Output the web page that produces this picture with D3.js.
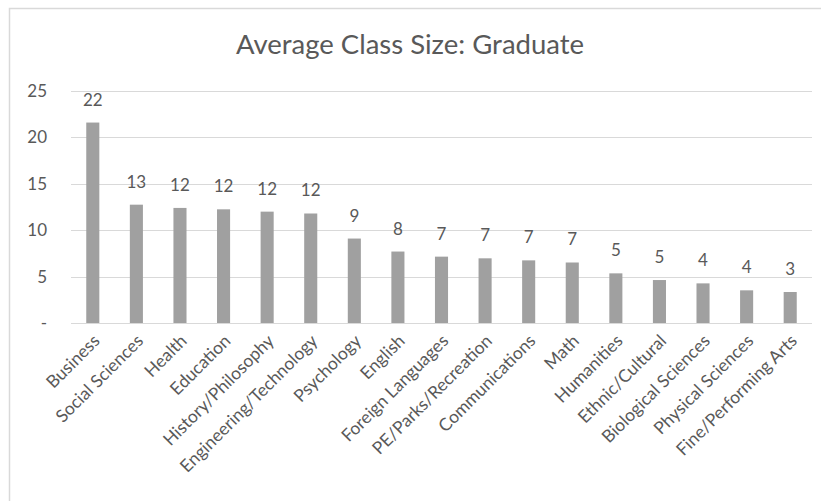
<!DOCTYPE html>
<html>
<head>
<meta charset="utf-8">
<script src="https://cdn.jsdelivr.net/npm/d3@7"></script>
<style>
  body { margin: 0; background: #fff; }
  text { font-family: Lato, "Open Sans", sans-serif; fill: #595959; }
</style>
</head>
<body>
<div id="chart"></div>
<script>
// chart data
var categories = ["Business", "Social Sciences", "Health", "Education", "History/Philosophy",
  "Engineering/Technology", "Psychology", "English", "Foreign Languages", "PE/Parks/Recreation",
  "Communications", "Math", "Humanities", "Ethnic/Cultural", "Biological Sciences",
  "Physical Sciences", "Fine/Performing Arts"];
var values = [21.6, 12.75, 12.4, 12.25, 12.0, 11.8, 9.1, 7.7, 7.15, 6.97, 6.75, 6.52, 5.35, 4.63, 4.27, 3.52, 3.34];
var yTicks = [0, 5, 10, 15, 20, 25];
var title = "Average Class Size: Graduate";

var svgWidth = 821, svgHeight = 501;
var margin = { top: 91, right: 9, bottom: 178, left: 71 };
var width = svgWidth - margin.left - margin.right;
var height = 323 - margin.top;

var svg = d3.select("#chart").append("svg")
  .attr("width", svgWidth)
  .attr("height", svgHeight);

// chart frame (left and top edges visible)
svg.append("path")
  .attr("d", "M9.5,501 L9.5,8.5 L821,8.5")
  .attr("fill", "none")
  .attr("stroke", "#d9d9d9")
  .attr("stroke-width", 1.5);

svg.append("text")
  .attr("x", 410)
  .attr("y", 54)
  .attr("text-anchor", "middle")
  .attr("font-size", "27.5px")
  .text(title);

var chartGroup = svg.append("g")
  .attr("transform", `translate(${margin.left}, ${margin.top})`);

var x = d3.scaleBand().domain(categories).range([0, width]).paddingInner(0.7).paddingOuter(0.35);
var y = d3.scaleLinear().domain([0, 25]).range([height, 0]);

// gridlines
chartGroup.selectAll("line.grid")
  .data(yTicks)
  .enter()
  .append("line")
  .attr("x1", 0)
  .attr("x2", width)
  .attr("y1", d => Math.round(y(d)) + 0.5)
  .attr("y2", d => Math.round(y(d)) + 0.5)
  .attr("stroke", "#d9d9d9")
  .attr("stroke-width", 1);

// y axis labels
var leftAxis = d3.axisLeft(y).tickValues(yTicks).tickSize(0).tickPadding(24)
  .tickFormat(d => d === 0 ? "-" : d);
chartGroup.append("g")
  .call(leftAxis)
  .call(g => g.select(".domain").remove())
  .selectAll("text")
  .attr("font-size", "17px")
  .attr("font-family", "Lato, 'Open Sans', sans-serif")
  .attr("fill", "#595959");

// bars
chartGroup.selectAll("rect.bar")
  .data(values)
  .enter()
  .append("rect")
  .attr("x", (d, i) => x(categories[i]))
  .attr("y", d => y(d))
  .attr("width", x.bandwidth())
  .attr("height", d => height - y(d))
  .attr("fill", "#a0a0a0");

// data labels
chartGroup.selectAll("text.val")
  .data(values)
  .enter()
  .append("text")
  .attr("x", (d, i) => x(categories[i]) + x.bandwidth() / 2)
  .attr("y", d => y(d) - 17)
  .attr("text-anchor", "middle")
  .attr("font-size", "17px")
  .text(d => Math.round(d));

// x axis labels
var bottomAxis = d3.axisBottom(x).tickSize(0).tickPadding(0);
chartGroup.append("g")
  .attr("transform", `translate(0, ${height})`)
  .call(bottomAxis)
  .call(g => g.select(".domain").remove())
  .selectAll("text")
  .attr("font-size", "17.5px")
  .attr("font-family", "Lato, 'Open Sans', sans-serif")
  .attr("fill", "#595959")
  .attr("text-anchor", "end")
  .attr("dy", "0")
  .attr("transform", "translate(8, 19) rotate(-45)");
</script>
</body>
</html>
